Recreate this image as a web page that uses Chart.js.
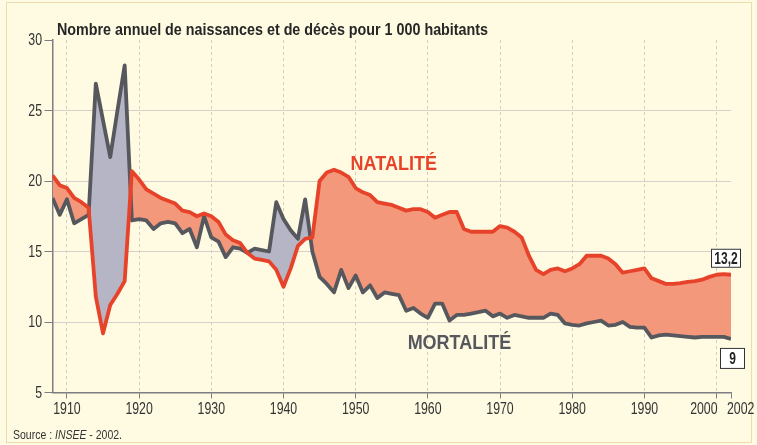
<!DOCTYPE html>
<html lang="fr">
<head>
<meta charset="UTF-8">
<title>Natalité et mortalité en France, 1908-2002</title>
<script src="https://cdn.jsdelivr.net/npm/chart.js@4.4.0/dist/chart.umd.min.js"></script>
<style>
  html, body { margin: 0; padding: 0; background: #fefbe2; }
  #wrap { position: relative; width: 757px; height: 445px; overflow: hidden; }
  #frame { position: absolute; left: 6px; top: 2px; width: 746px; height: 441px; border: 1px solid #ecdcb0; box-sizing: border-box; }
  #myChart { position: absolute; left: 0; top: 0; }
  .title { position: absolute; left: 57px; top: 21px; font: bold 16px 'Liberation Sans', Arial, sans-serif; line-height: 18px; color: #262626; white-space: nowrap; transform-origin: left top; }
  .source { position: absolute; left: 13px; top: 428px; font: 13px 'Liberation Sans', Arial, sans-serif; line-height: 14px; color: #333; white-space: nowrap; transform-origin: left top; }
</style>
</head>
<body>
<div id="wrap">
  <div id="frame"></div>
  <canvas id="myChart" width="757" height="445"></canvas>
  <div class="title" id="title">Nombre annuel de naissances et de décès pour 1 000 habitants</div>
  <div class="source" id="source">Source : <i>INSEE</i> - 2002.</div>
</div>
<script>
// years shown on the chart
const years = [
  1908, 1909,
  1910, 1911, 1912, 1913, 1914, 1915, 1916, 1917, 1918, 1919,
  1920, 1921, 1922, 1923, 1924, 1925, 1926, 1927, 1928, 1929,
  1930, 1931, 1932, 1933, 1934, 1935, 1936, 1937, 1938, 1939,
  1940, 1941, 1942, 1943, 1944, 1945, 1946, 1947, 1948, 1949,
  1950, 1951, 1952, 1953, 1954, 1955, 1956, 1957, 1958, 1959,
  1960, 1961, 1962, 1963, 1964, 1965, 1966, 1967, 1968, 1969,
  1970, 1971, 1972, 1973, 1974, 1975, 1976, 1977, 1978, 1979,
  1980, 1981, 1982, 1983, 1984, 1985, 1986, 1987, 1988, 1989,
  1990, 1991, 1992, 1993, 1994, 1995, 1996, 1997, 1998, 1999,
  2000, 2001, 2002
];

// births per 1000 inhabitants
const natalite = [
  20.4, 19.7,
  19.5, 18.8, 18.5, 18.1, 11.8, 9.2, 11.2, 12.0, 12.9, 20.7,
  20.1, 19.4, 19.1, 18.8, 18.6, 18.4, 17.9, 17.8, 17.5, 17.7,
  17.5, 17.1, 16.2, 15.8, 15.6, 14.9, 14.5, 14.4, 14.3, 13.7,
  12.5, 13.8, 15.4, 15.9, 16.0, 20.0, 20.6, 20.8, 20.6, 20.3,
  19.5, 19.2, 19.0, 18.5, 18.4, 18.3, 18.1, 17.9, 18.0, 18.0,
  17.8, 17.4, 17.6, 17.8, 17.8, 16.6, 16.4, 16.4, 16.4, 16.4,
  16.8, 16.7, 16.4, 16.0, 14.7, 13.7, 13.4, 13.7, 13.8, 13.6,
  13.8, 14.1, 14.7, 14.7, 14.7, 14.5, 14.1, 13.5, 13.6, 13.7,
  13.8, 13.1, 12.9, 12.7, 12.7, 12.75, 12.85, 12.9, 13.0, 13.2,
  13.35, 13.4, 13.35
];

// deaths per 1000 inhabitants
const mortalite = [
  18.8, 17.6,
  18.7, 17.0, 17.3, 17.6, 26.9, 24.3, 21.7, 25.0, 28.2, 17.2,
  17.3, 17.2, 16.6, 17.0, 17.1, 17.0, 16.3, 16.6, 15.3, 17.5,
  16.0, 15.7, 14.6, 15.3, 15.2, 14.9, 15.2, 15.1, 15.0, 18.5,
  17.3, 16.5, 15.9, 18.7, 15.0, 13.2, 12.7, 12.1, 13.7, 12.4,
  13.3, 12.1, 12.6, 11.7, 12.1, 12.0, 11.9, 10.8, 11.0, 10.6,
  10.3, 11.3, 11.3, 10.1, 10.5, 10.5, 10.6, 10.7, 10.8, 10.4,
  10.6, 10.3, 10.5, 10.4, 10.3, 10.3, 10.3, 10.6, 10.5, 9.9,
  9.8, 9.75, 9.9, 10.0, 10.1, 9.75, 9.8, 10.0, 9.65, 9.6,
  9.6, 8.9, 9.05, 9.1, 9.05, 9.0, 8.95, 8.9, 8.95, 8.95,
  8.95, 8.95, 8.8
];

const xTicks = [1910, 1920, 1930, 1940, 1950, 1960, 1970, 1980, 1990, 2000, 2002];
const seriesNames = ['NATALITÉ', 'MORTALITÉ'];
const endLabels = ['13,2', '9'];

const fam = "'Liberation Sans', Arial, sans-serif";
const RED = '#e7432a';
const GREY = '#57585e';
const NARROW = 0.77; // the original uses a condensed face

// condensed text on the canvas
function narrowText(ctx, txt, x, y, align, sx) {
    ctx.save();
    ctx.translate(x, y);
    ctx.scale(sx, 1);
    ctx.textAlign = align;
    ctx.fillText(txt, 0, 0);
    ctx.restore();
}

// tick labels, series names and end value boxes
const annotations = {
    id: 'annotations',
    afterDraw(chart) {
        const { ctx, scales: { x, y } } = chart;
        ctx.save();

        ctx.font = '16px ' + fam;
        ctx.fillStyle = '#333';
        ctx.textBaseline = 'middle';
        const ly = x.top + 17;
        xTicks.forEach(v => {
            const px = x.getPixelForValue(v);
            if (v === 2000) narrowText(ctx, String(v), px + 1, ly, 'right', NARROW);
            else if (v === 2002) narrowText(ctx, String(v), px - 4, ly, 'left', NARROW);
            else narrowText(ctx, String(v), px, ly, 'center', NARROW);
        });
        y.ticks.forEach(t => {
            narrowText(ctx, String(t.value), y.right - 10.5, y.getPixelForValue(t.value) + 1, 'right', NARROW);
        });

        ctx.font = 'bold 20px ' + fam;
        ctx.textBaseline = 'alphabetic';
        ctx.fillStyle = RED;
        narrowText(ctx, seriesNames[0], x.getPixelForValue(1949.3), y.getPixelForValue(20.75), 'left', 0.9);
        ctx.fillStyle = GREY;
        narrowText(ctx, seriesNames[1], x.getPixelForValue(1957.2), y.getPixelForValue(8.1), 'left', 0.9);

        const last = years.length - 1;
        const box = (txt, cx, top, w, h) => {
            ctx.fillStyle = '#fff';
            ctx.fillRect(cx - w / 2, top, w, h);
            ctx.strokeStyle = '#333';
            ctx.lineWidth = 1;
            ctx.strokeRect(cx - w / 2 + 0.5, top + 0.5, w - 1, h - 1);
            ctx.fillStyle = '#222';
            ctx.font = 'bold 16px ' + fam;
            ctx.textBaseline = 'middle';
            narrowText(ctx, txt, cx, top + h / 2 + 1, 'center', 0.75);
        };
        const xEnd = x.getPixelForValue(years[last]);
        box(endLabels[0], xEnd - 5, y.getPixelForValue(natalite[last]) - 26, 30, 19);
        box(endLabels[1], xEnd + 1.5, y.getPixelForValue(mortalite[last]) + 9, 25, 21);

        ctx.restore();
    }
};

// squeeze an html text line to the width it has in the original
function fitWidth(id, w) {
    const el = document.getElementById(id);
    const r = el.getBoundingClientRect().width;
    el.style.transform = 'scaleX(' + (w / r) + ')';
}

window.addEventListener('load', setup);

function setup() {
    fitWidth('title', 431);
    fitWidth('source', 109);

    const ctx = document.getElementById('myChart').getContext('2d');

    const natPoints = years.map((yr, i) => ({ x: yr, y: natalite[i] }));
    const mortPoints = years.map((yr, i) => ({ x: yr, y: mortalite[i] }));

    new Chart(ctx, {
        type: 'line',
        data: {
            datasets: [{
                label: 'Natalité',
                data: natPoints,
                borderColor: RED,
                borderWidth: 3.8,
                borderJoinStyle: 'round',
                pointRadius: 0,
                fill: { target: 1, above: '#f4987b', below: '#b5b5c5' },
            }, {
                label: 'Mortalité',
                data: mortPoints,
                borderColor: GREY,
                borderWidth: 3.8,
                borderJoinStyle: 'round',
                pointRadius: 0,
                fill: false,
            }],
        },
        options: {
            responsive: false,
            animation: false,
            devicePixelRatio: 1,
            layout: { padding: { top: 40, right: 26, left: 0, bottom: 0 } },
            plugins: {
                legend: { display: false },
                tooltip: { enabled: false },
                filler: { drawTime: 'beforeDatasetsDraw' },
            },
            scales: {
                x: {
                    type: 'linear',
                    min: 1908,
                    max: 2002,
                    afterBuildTicks: s => { s.ticks = xTicks.map(v => ({ value: v })); },
                    afterFit: s => { s.height = 52.5; },
                    ticks: {
                        autoSkip: false,
                        maxRotation: 0,
                        color: 'rgba(0,0,0,0)',
                        font: { family: fam, size: 12 },
                    },
                    grid: {
                        color: c => (c.tick && c.tick.value === 2002) ? 'rgba(0,0,0,0)' : '#d3ccbc',
                        tickColor: '#7e7e82',
                        tickLength: 6,
                    },
                    border: { color: '#7e7e82', width: 1.5, dash: [3, 3] },
                },
                y: {
                    min: 5,
                    max: 30,
                    afterFit: s => { s.width = 52.5; },
                    ticks: {
                        stepSize: 5,
                        color: 'rgba(0,0,0,0)',
                        font: { family: fam, size: 12 },
                    },
                    grid: {
                        color: c => (c.tick && (c.tick.value === 30 || c.tick.value === 5)) ? 'rgba(0,0,0,0)' : '#d6cfca',
                        tickColor: '#7e7e82',
                        tickLength: 8,
                    },
                    border: { color: '#7e7e82', width: 1.5 },
                },
            },
        },
        plugins: [annotations],
    });
}
</script>
</body>
</html>
